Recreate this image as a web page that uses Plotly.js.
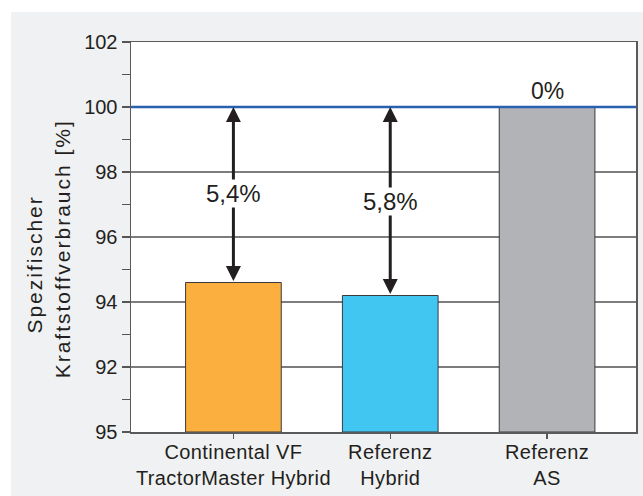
<!DOCTYPE html>
<html>
<head>
<meta charset="utf-8">
<script src="https://cdn.plot.ly/plotly-3.0.1.min.js"></script>
<style>
html,body{margin:0;padding:0;background:#ffffff;}
#chart{position:absolute;left:11px;top:12px;width:632px;height:484px;}
#chart .g-ytitle text{letter-spacing:2px;}
#chart .xtick text{letter-spacing:0.4px;}
</style>
</head>
<body>
<div id="chart"></div>
<script>
// ---- data ----
const categories = ["Continental VF<br>TractorMaster Hybrid", "Referenz<br>Hybrid", "Referenz<br>AS"];
const values = [94.6, 94.2, 100.0];
const diffLabels = ["5,4%", "5,8%", "0%"];
const referenceValue = 100;
const yTickVals = [90, 92, 94, 96, 98, 100, 102];
const yTickText = ["95", "92", "94", "96", "98", "100", "102"];
const yMinorVals = [91, 93, 95, 97, 99, 101];
const diffLabelY = [97.35, 97.09];

// ---- styles ----
const barColors = ["#fbaf3f", "#40c6f1", "#b2b3b6"];
const txtColor = "#231f20";
const font = "Liberation Sans, Arial, Helvetica, sans-serif";

const xIdx = categories.map((c, i) => i);

const trace = {
  type: "bar",
  x: xIdx,
  y: values.map(v => v - 90),
  base: 90,
  width: 0.61,
  marker: {color: barColors, line: {color: "#3a3a3a", width: 1}},
  hoverinfo: "skip"
};

const annotations = [];
values.forEach((v, i) => {
  if (v < referenceValue) {
    annotations.push({
      x: i, y: referenceValue, xref: "x", yref: "y",
      ax: i, ay: v, axref: "x", ayref: "y",
      text: "", showarrow: true,
      arrowside: "end+start",
      arrowhead: 2, startarrowhead: 2,
      arrowsize: 1.0, startarrowsize: 1.0,
      arrowwidth: 3, arrowcolor: txtColor
    });
  }
});
values.forEach((v, i) => {
  if (v < referenceValue) {
    annotations.push({
      x: i, y: diffLabelY[i], xref: "x", yref: "y",
      text: diffLabels[i], showarrow: false,
      bgcolor: "#ffffff", borderpad: 0,
      font: {family: font, size: 24, color: txtColor}
    });
  } else {
    annotations.push({
      x: i, y: referenceValue, xref: "x", yref: "y",
      text: diffLabels[i], showarrow: false, yanchor: "bottom", yshift: 1,
      font: {family: font, size: 23, color: txtColor}
    });
  }
});

const layout = {
  width: 632, height: 484,
  margin: {l: 120, r: 7, t: 30, b: 64, pad: 0},
  paper_bgcolor: "#f0f1f3",
  plot_bgcolor: "#ffffff",
  showlegend: false,
  bargap: 0,
  font: {family: font, size: 20, color: txtColor},
  xaxis: {
    range: [-0.653, 2.567],
    tickvals: xIdx, ticktext: categories,
    ticks: "outside", ticklen: 5, tickcolor: "#555", tickwidth: 1.3,
    ticklabelstandoff: -4,
    showline: true, mirror: true, linecolor: "#5a5a5a", linewidth: 1.5,
    showgrid: false, zeroline: false, fixedrange: true,
    tickfont: {family: font, size: 20, color: txtColor}
  },
  yaxis: {
    range: [90, 102],
    tickvals: yTickVals, ticktext: yTickText,
    ticks: "outside", ticklen: 8, tickcolor: "#555", tickwidth: 1.3,
    minor: {tickvals: yMinorVals, ticks: "outside", ticklen: 8, tickcolor: "#555", tickwidth: 1.3, showgrid: false},
    showline: true, mirror: true, linecolor: "#5a5a5a", linewidth: 1.5,
    showgrid: true, gridcolor: "#7d7d7d", gridwidth: 1.2,
    zeroline: false, fixedrange: true,
    tickfont: {family: font, size: 20, color: txtColor},
    title: {
      text: "Spezifischer\u00a0\u00a0\u00a0\u00a0\u00a0\u00a0\u00a0<br>Kraftstoffverbrauch [%]\u00a0\u00a0\u00a0\u200b",
      font: {family: font, size: 21, color: txtColor},
      standoff: 8
    }
  },
  shapes: [{
    type: "line", xref: "paper", yref: "y",
    x0: 0, x1: 1, y0: referenceValue, y1: referenceValue,
    line: {color: "#2b5faf", width: 2.6}, layer: "above"
  }],
  annotations: annotations
};

Plotly.newPlot("chart", [trace], layout, {displayModeBar: false, staticPlot: true});
</script>
</body>
</html>
